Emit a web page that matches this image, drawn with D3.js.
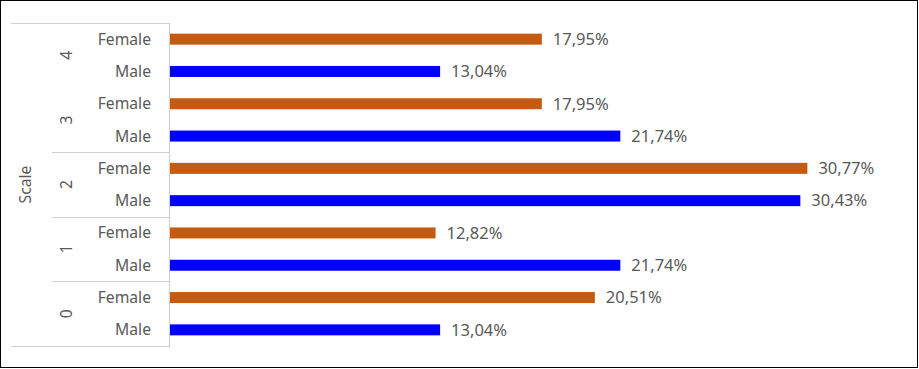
<!DOCTYPE html>
<html>
<head>
<meta charset="utf-8">
<script src="https://cdn.jsdelivr.net/npm/d3@7"></script>
<style>
	body { margin: 0; background: #fff; }
	text { font-family: "Noto Sans", "Open Sans", sans-serif; fill: #595959; }
</style>
</head>
<body>
<svg id="chart" width="919" height="369"></svg>
<script>
var groups  = ["0", "1", "2", "3", "4"],
	genders = ["Female", "Male"],
	male    = [13.04, 21.74, 30.43, 21.74, 13.04],
	female  = [20.51, 12.82, 30.77, 17.95, 17.95],
	axisTitle = "Scale";

var data = [];
groups.forEach(function(g, i) {
	data.push({group: g, gender: "Male", value: male[i]});
	data.push({group: g, gender: "Female", value: female[i]});
});

var svg = d3.select("#chart"),
	top_ = 23, bottom = 346, axisX = 169.5;

var color = d3.scaleOrdinal()
	.domain(genders)
	.range(["#C55A11", "#0000FF"]);

var y0 = d3.scaleBand()
	.domain(groups.slice().reverse())
	.range([top_, bottom]);

var y1 = d3.scaleBand()
	.domain(genders)
	.range([0, y0.bandwidth()]);

var x = d3.scaleLinear()
	.domain([0, 35])
	.range([170, 895]);

var fmt = v => d3.format(".2f")(v).replace(".", ",") + "%";
var barH = 11;

// frame
svg.append("rect")
	.attr("x", 0.5).attr("y", 0.5)
	.attr("width", 917).attr("height", 367)
	.attr("fill", "none")
	.attr("stroke", "#000");

// category axis lines
var axis = svg.append("g")
	.attr("stroke", "#d0d0d0")
	.attr("stroke-width", 1.2);

axis.append("line")
	.attr("x1", 11).attr("x2", axisX)
	.attr("y1", top_ + 0.5).attr("y2", top_ + 0.5);
axis.append("line")
	.attr("x1", 11).attr("x2", axisX)
	.attr("y1", bottom + 0.5).attr("y2", bottom + 0.5);
axis.append("line")
	.attr("x1", axisX).attr("x2", axisX)
	.attr("y1", top_).attr("y2", bottom + 1);

axis.selectAll(".sep")
	.data(groups.slice(1, 4))
	.enter().append("line")
		.attr("x1", 52).attr("x2", axisX)
		.attr("y1", d => Math.round(y0(d) + y0.bandwidth()) + 0.5)
		.attr("y2", d => Math.round(y0(d) + y0.bandwidth()) + 0.5);

// bars
svg.selectAll(".bar")
	.data(data)
	.enter().append("rect")
		.attr("class", "bar")
		.attr("x", x(0))
		.attr("y", d => y0(d.group) + y1(d.gender) + y1.bandwidth() / 2 - barH / 2)
		.attr("width", d => x(d.value) - x(0))
		.attr("height", barH)
		.attr("fill", d => color(d.gender));

// value labels
svg.selectAll(".val")
	.data(data)
	.enter().append("text")
		.attr("class", "val")
		.attr("x", d => x(d.value) + 11)
		.attr("y", d => y0(d.group) + y1(d.gender) + y1.bandwidth() / 2)
		.attr("dy", "0.35em")
		.style("font-size", "16.5px")
		.text(d => fmt(d.value));

// sub-category labels
svg.selectAll(".sub")
	.data(data)
	.enter().append("text")
		.attr("class", "sub")
		.attr("x", 151)
		.attr("y", d => y0(d.group) + y1(d.gender) + y1.bandwidth() / 2)
		.attr("dy", "0.35em")
		.attr("text-anchor", "end")
		.style("font-size", "15.7px")
		.text(d => d.gender);

// group labels (rotated)
svg.selectAll(".grp")
	.data(groups)
	.enter().append("text")
		.attr("class", "grp")
		.attr("transform", d => "translate(66," + (y0(d) + y0.bandwidth() / 2) + ") rotate(-90)")
		.attr("dy", "0.35em")
		.attr("text-anchor", "middle")
		.style("font-size", "15.7px")
		.text(d => d);

svg.append("text")
	.attr("transform", "translate(25," + ((top_ + bottom) / 2) + ") rotate(-90)")
	.attr("dy", "0.35em")
	.attr("text-anchor", "middle")
	.style("font-size", "15.7px")
	.text(axisTitle);
</script>
</body>
</html>
